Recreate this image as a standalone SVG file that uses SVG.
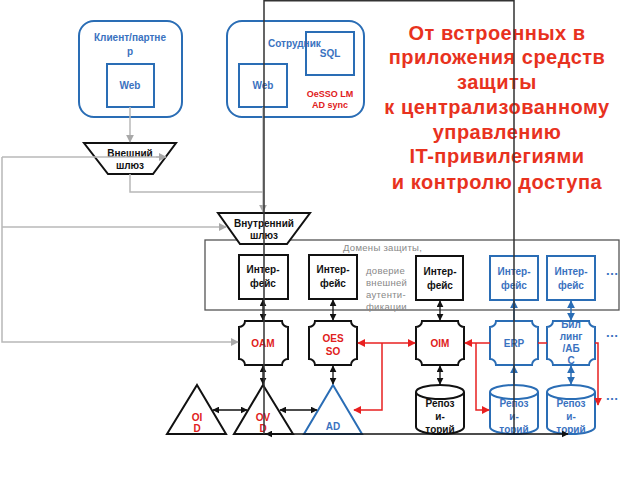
<svg xmlns="http://www.w3.org/2000/svg" width="640" height="480" viewBox="0 0 640 480">
<style>
.bl{fill:none;stroke:#2a6db5;stroke-width:2}
.bk{fill:#fff;stroke:#111;stroke-width:2}
.bb{fill:#fff;stroke:#2a6db5;stroke-width:2}
text{font-family:"Liberation Sans",Arial,sans-serif;font-weight:bold;text-anchor:middle}
.tb{fill:#3a72c0;font-size:10px}
.tk{fill:#111;font-size:10px}
.tr{fill:#e02020;font-size:10px}
.tg{fill:#888;font-size:9.5px;font-weight:normal;text-anchor:start;letter-spacing:0.3px}
.title{fill:#e8321e;font-size:20px;letter-spacing:0.5px}
.g{fill:none;stroke:#b8b8b8;stroke-width:1.5}
.k{fill:none;stroke:#111;stroke-width:1.3}
.b{fill:none;stroke:#2a6db5;stroke-width:1.5}
.r{fill:none;stroke:#e82020;stroke-width:1.5}
</style>
<defs>
<marker id="ag" viewBox="0 0 10 10" refX="9" refY="5" markerWidth="8" markerHeight="8" markerUnits="userSpaceOnUse" orient="auto-start-reverse"><path d="M0,0L10,5L0,10Z" fill="#a8a8a8"/></marker>
<marker id="ak" viewBox="0 0 10 10" refX="9" refY="5" markerWidth="7" markerHeight="7" markerUnits="userSpaceOnUse" orient="auto-start-reverse"><path d="M0,0L10,5L0,10Z" fill="#111"/></marker>
<marker id="ab" viewBox="0 0 10 10" refX="9" refY="5" markerWidth="8" markerHeight="8" markerUnits="userSpaceOnUse" orient="auto-start-reverse"><path d="M0,0L10,5L0,10Z" fill="#2a6db5"/></marker>
<marker id="ar" viewBox="0 0 10 10" refX="9" refY="5" markerWidth="8" markerHeight="8" markerUnits="userSpaceOnUse" orient="auto-start-reverse"><path d="M0,0L10,5L0,10Z" fill="#e82020"/></marker>
</defs>

<g id="domain">
<rect x="205" y="240" width="414" height="70" fill="none" stroke="#555" stroke-width="1.3"/>
<text class="tg" x="343" y="251">Домены защиты,</text>
<text class="tg" x="366" y="274">доверие</text>
<text class="tg" x="366" y="286">внешней</text>
<text class="tg" x="366" y="298">аутенти-</text>
<text class="tg" x="366" y="310">фикации</text>
</g>

<g id="client">
<rect class="bl" x="79" y="21" width="103" height="96" rx="15"/>
<text class="tb" x="130" y="41">Клиент/партне</text>
<text class="tb" x="130" y="55">р</text>
<rect class="bl" x="107" y="64" width="47" height="43"/>
<text class="tb" x="130" y="89">Web</text>
</g>

<g id="employee">
<rect class="bl" x="227" y="21" width="137" height="96" rx="15"/>
<text class="tb" x="268" y="47" style="text-anchor:start">Сотрудник</text>
<rect class="bl" x="306" y="32" width="48" height="43"/>
<text class="tb" x="330" y="57">SQL</text>
<rect class="bl" x="239" y="64" width="48" height="43"/>
<text class="tb" x="263" y="89">Web</text>
<text class="tr" x="330" y="97" style="font-size:9px">OeSSO LM</text>
<text class="tr" x="330" y="108" style="font-size:9px">AD sync</text>
</g>

<g id="title">
<text class="title" x="497" y="40">От встроенных в</text>
<text class="title" x="497" y="64">приложения средств</text>
<text class="title" x="497" y="89">защиты</text>
<text class="title" x="497" y="114">к централизованному</text>
<text class="title" x="497" y="139">управлению</text>
<text class="title" x="497" y="163">IT-привилегиями</text>
<text class="title" x="497" y="189">и контролю доступа</text>
</g>

<g id="ext-gw">
<path class="bk" d="M84,143H176L153,174H108Z"/>
<text class="tk" x="130" y="157">Внешний</text>
<text class="tk" x="130" y="169">шлюз</text>
</g>

<g id="int-gw">
<path class="bk" d="M218,213H310L287,244H240Z"/>
<text class="tk" x="264" y="227">Внутренний</text>
<text class="tk" x="264" y="239">шлюз</text>
</g>

<g id="if1"><rect class="bk" x="239" y="255" width="49" height="44"/><text class="tk" x="263" y="273">Интер-</text><text class="tk" x="263" y="287">фейс</text></g>
<g id="if2"><rect class="bk" x="309" y="255" width="48" height="44"/><text class="tk" x="333" y="273">Интер-</text><text class="tk" x="333" y="287">фейс</text></g>
<g id="if3"><rect class="bk" x="416" y="256" width="47" height="44"/><text class="tk" x="440" y="275">Интер-</text><text class="tk" x="440" y="289">фейс</text></g>
<g id="if4"><rect class="bb" x="490" y="256" width="48" height="44"/><text class="tb" x="514" y="275">Интер-</text><text class="tb" x="514" y="289">фейс</text></g>
<g id="if5"><rect class="bb" x="547" y="256" width="48" height="44"/><text class="tb" x="571" y="275">Интер-</text><text class="tb" x="571" y="289">фейс</text></g>
<g id="dots"><text class="tb" x="612" y="275" style="font-size:13px">…</text><text class="tb" x="612" y="337" style="font-size:13px">…</text><text class="tb" x="612" y="400" style="font-size:13px">…</text></g>

<g id="oam"><path class="bk" d="M245,321H282A6,6 0 0 0 288,327V359A6,6 0 0 0 282,365H245A6,6 0 0 0 239,359V327A6,6 0 0 0 245,321Z"/><text class="tr" x="263" y="347">OAM</text></g>
<g id="oesso"><path class="bk" d="M315,321H351A6,6 0 0 0 357,327V359A6,6 0 0 0 351,365H315A6,6 0 0 0 309,359V327A6,6 0 0 0 315,321Z"/><text class="tr" x="333" y="342">OES</text><text class="tr" x="333" y="355">SO</text></g>
<g id="oim"><path class="bk" d="M422,321H458A6,6 0 0 0 464,327V359A6,6 0 0 0 458,365H422A6,6 0 0 0 416,359V327A6,6 0 0 0 422,321Z"/><text class="tr" x="440" y="347">OIM</text></g>
<g id="erp"><path class="bb" d="M496,321H532A6,6 0 0 0 538,327V359A6,6 0 0 0 532,365H496A6,6 0 0 0 490,359V327A6,6 0 0 0 496,321Z"/><text class="tb" x="514" y="347">ERP</text></g>
<g id="billing"><path class="bb" d="M553,321H589A6,6 0 0 0 595,327V359A6,6 0 0 0 589,365H553A6,6 0 0 0 547,359V327A6,6 0 0 0 553,321Z"/><text class="tb" x="571" y="328">Бил</text><text class="tb" x="571" y="340">линг</text><text class="tb" x="571" y="352">/АБ</text><text class="tb" x="571" y="364">С</text></g>

<g id="oid"><path class="bk" d="M197,385L226,434H167Z"/><text class="tr" x="197" y="421">OI</text><text class="tr" x="197" y="432">D</text></g>
<g id="ovd"><path class="bk" d="M263,385L293,434H234Z"/><text class="tr" x="263" y="421">OV</text><text class="tr" x="263" y="432">D</text></g>
<g id="ad"><path class="bb" d="M333,385L362,434H304Z"/><text class="tb" x="333" y="430">AD</text></g>

<g id="repo1"><path class="bk" d="M416,392V427A24,7 0 0 0 464,427V392A24,7 0 0 0 416,392A24,7 0 0 0 464,392"/><text class="tk" x="440" y="407">Репоз</text><text class="tk" x="440" y="420">и-</text><text class="tk" x="440" y="433">торий</text></g>
<g id="repo2"><path class="bb" d="M490,392V427A24,7 0 0 0 538,427V392A24,7 0 0 0 490,392A24,7 0 0 0 538,392"/><text class="tb" x="514" y="407">Репоз</text><text class="tb" x="514" y="420">и-</text><text class="tb" x="514" y="433">торий</text></g>
<g id="repo3"><path class="bb" d="M547,392V427A24,7 0 0 0 595,427V392A24,7 0 0 0 547,392A24,7 0 0 0 595,392"/><text class="tb" x="571" y="407">Репоз</text><text class="tb" x="571" y="420">и-</text><text class="tb" x="571" y="433">торий</text></g>

<g id="connectors">
<path class="g" d="M130,107V142" marker-end="url(#ag)"/>
<path class="g" d="M130,174V192H263"/>
<path class="g" d="M263,107V212" marker-end="url(#ag)"/>
<path class="g" d="M2,157H165"/>
<path class="g" d="M2,157V342H238" marker-end="url(#ag)"/>
<path class="g" d="M2,227H226" marker-end="url(#ag)"/>
<path class="g" d="M156,157H166" marker-end="url(#ag)"/>

<path class="k" d="M263,300V320" marker-start="url(#ak)" marker-end="url(#ak)"/>
<path class="k" d="M263,366V384" marker-start="url(#ak)" marker-end="url(#ak)"/>
<path class="k" d="M333,300V320" marker-start="url(#ak)" marker-end="url(#ak)"/>
<path class="k" d="M333,366V384" marker-start="url(#ak)" marker-end="url(#ak)"/>
<path class="k" d="M440,301V320" marker-start="url(#ak)" marker-end="url(#ak)"/>
<path class="k" d="M440,366V384" marker-start="url(#ak)" marker-end="url(#ak)"/>
<path class="k" d="M213,410H247" marker-start="url(#ak)" marker-end="url(#ak)"/>
<path class="k" d="M280,410H317" marker-start="url(#ak)" marker-end="url(#ak)"/>

<path class="b" d="M514,321V301" marker-end="url(#ab)"/>
<path class="b" d="M514,385V366" marker-end="url(#ab)"/>
<path class="b" d="M571,301V320" marker-start="url(#ab)" marker-end="url(#ab)"/>
<path class="b" d="M571,366V384" marker-start="url(#ab)" marker-end="url(#ab)"/>

<path class="r" d="M358,343H415" marker-start="url(#ar)" marker-end="url(#ar)"/>
<path class="r" d="M382,343V410H354" marker-end="url(#ar)"/>
<path class="r" d="M490,343H465" marker-end="url(#ar)"/>
<path class="r" d="M476,343V410H489" marker-end="url(#ar)"/>
<path class="r" d="M538,343H547"/>
<path class="r" d="M595,343H598V405" marker-end="url(#ar)"/>

<path fill="none" stroke="#333" stroke-width="1.5" d="M264,434V0.75H514V434"/>
<path fill="none" stroke="#111" stroke-width="1.3" d="M266,434H568" marker-start="url(#ak)" marker-end="url(#ak)"/>
</g>
</svg>
